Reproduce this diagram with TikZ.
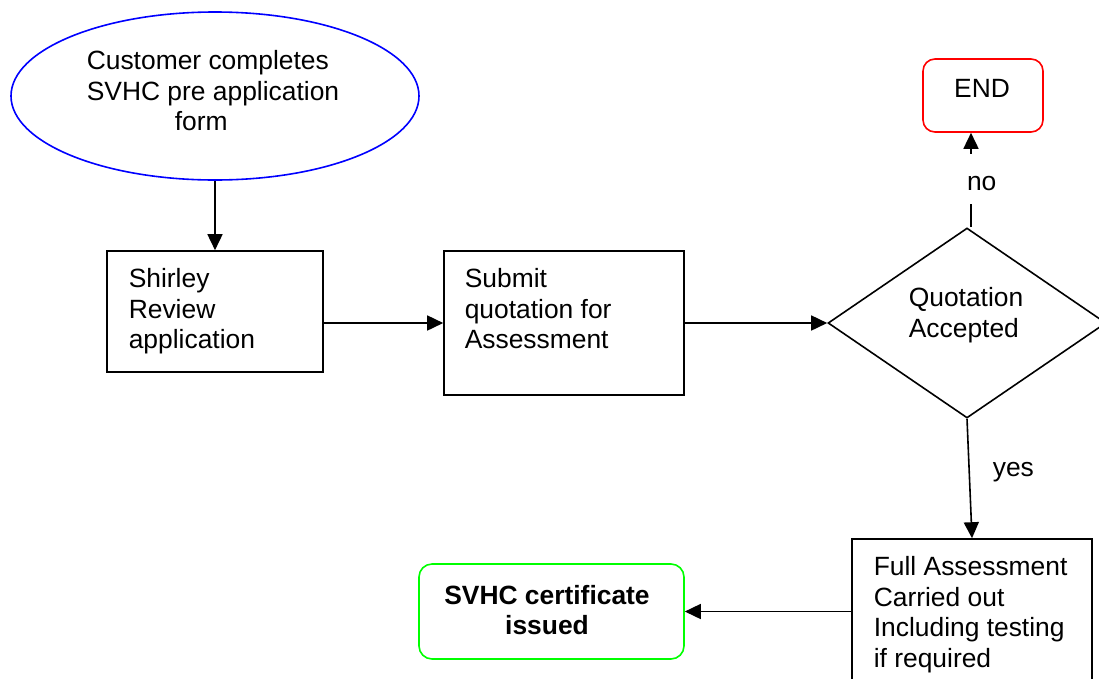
\documentclass[tikz,border=0pt]{standalone}
\usepackage{fontspec}
\setmainfont{Liberation Sans}
\usetikzlibrary{shapes.geometric,arrows.meta}
\begin{document}
\begin{tikzpicture}[x=1pt,y=-1pt, line width=1.6pt,
  every node/.style={font=\fontsize{26.4}{30.4}\selectfont},
  box/.style={draw, rectangle, inner sep=0pt},
  txt/.style={inner sep=0pt, anchor=north west, align=left},
  arr/.style={-{Triangle[length=16pt,width=15pt]}},
  rbox/.style={draw, rounded corners=#1, inner sep=0pt},
]
\useasboundingbox (0,0) rectangle (1099,678);
\fill[white] (0,0) rectangle (1099,678);
\clip (0,0) rectangle (1099,678);

% nodes
\node[draw=blue, ellipse, minimum width=408pt, minimum height=168pt, inner sep=0pt] (cust) at (215,96) {};
\node[txt] (custt) at (86,50) {Customer completes\\SVHC pre application\\\hspace*{88pt}form};

\node[box, minimum width=216pt, minimum height=121pt] (shir) at (215,311.5) {};
\node[txt] (shirt) at (128,268) {Shirley\\Review\\application};

\node[box, minimum width=240pt, minimum height=144pt] (subm) at (564,323) {};
\node[txt] (submt) at (464,268) {Submit\\quotation for\\Assessment};

\node[draw, diamond, minimum width=278pt, minimum height=190pt, inner sep=0pt] (dia) at (967,323) {};
\node[txt] (diat) at (908,287) {Quotation\\Accepted};

\node[rbox=12pt, draw=red, minimum width=120pt, minimum height=73pt] (endn) at (983,95.5) {};
\node[inner sep=0pt] (endt) at (982,88) {END};

\node[box, minimum width=240pt, minimum height=170pt] (full) at (972,624) {};
\node[txt] (fullt) at (873,556) {Full Assessment\\Carried out\\Including testing\\if required};

\node[rbox=13pt, draw=green, minimum width=265pt, minimum height=95pt] (cert) at (551.5,611.5) {};
\node[inner sep=0pt, align=center, font=\fontsize{26.4}{30.4}\selectfont\bfseries] (certt) at (547,610) {SVHC certificate\\issued};

% connectors
\draw[arr] (cust.south) -- (shir.north);
\draw[arr] (shir.east |- subm.west) -- (subm.west);
\draw[arr] (subm.east) -- (dia.west);
\draw[arr] ([xshift=4pt]dia.north) -- ([xshift=4pt]dia.north |- endn.south)
  node[pos=0.51, fill=white, inner xsep=2pt, inner ysep=0pt, text height=36pt, text depth=14pt, xshift=10.7pt] (nolab) {no};
\draw[arr] (dia.south) -- (full.north);
\node[anchor=base west, inner sep=0pt] (yeslab) at (992,476) {yes};
\draw[arr] (full.west |- cert.east) -- (cert.east);
\end{tikzpicture}
\end{document}
